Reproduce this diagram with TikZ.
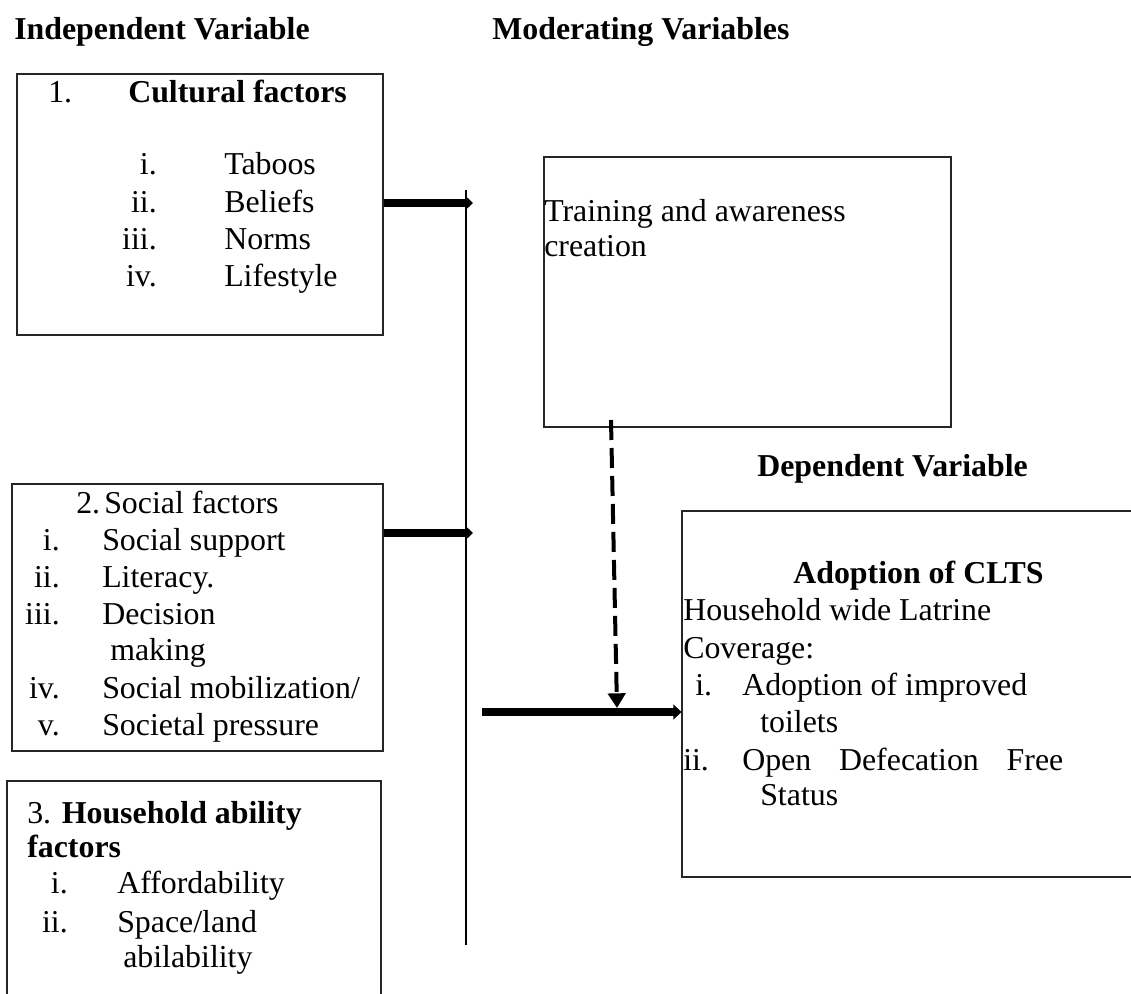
\documentclass[tikz,border=0pt]{standalone}
\usepackage{fontspec}
\setmainfont{Liberation Serif}
\usetikzlibrary{arrows.meta,fit}
\tikzset{
  box/.style={draw=black!85, line width=0.8pt, inner sep=0pt},
  txt/.style={inner sep=0pt, anchor=base west, font=\fontsize{23.9}{28}\selectfont},
  num/.style={inner sep=0pt, anchor=base east, font=\fontsize{23.9}{28}\selectfont},
  thickarrow/.style={line width=5.5pt, -{Triangle[length=6pt,width=11pt]}},
  dasharrow/.style={line width=3pt, dash pattern=on 15pt off 6pt, -{Triangle[length=11pt,width=13pt]}},
  vline/.style={line width=0.9pt}
}
\begin{document}
\begin{tikzpicture}[x=0.75pt,y=-0.75pt]
\useasboundingbox (0,0) rectangle (1131,994);
\clip (0,0) rectangle (1131,994);
\fill[white] (0,0) rectangle (1131,994);

% headers
\node[txt] (hInd) at (14,40) {\bfseries Independent Variable};
\node[txt] (hMod) at (492,40) {\bfseries Moderating Variables};
\node[txt] (hDep) at (757,477) {\bfseries Dependent Variable};

% boxes
\node[box, fit={(17,74) (383,335)}] (c1) {};
\node[box, fit={(12,484) (383,751)}] (c2) {};
\node[box, fit={(7,781) (381,1020)}] (c3) {};
\node[box, fit={(544,157) (951,427)}] (train) {};
\node[box, fit={(682,511) (1150,877)}] (dep) {};

% box 1 text
\node[txt] (c1n) at (48,103) {1.};
\node[txt] (c1t) at (128,103) {\bfseries Cultural factors};
\node[num] (c1i) at (157,175) {i.};
\node[txt] (c1a) at (224,175) {Taboos};
\node[num] (c1ii) at (157,213) {ii.};
\node[txt] (c1b) at (224,213) {Beliefs};
\node[num] (c1iii) at (157,250) {iii.};
\node[txt] (c1c) at (224,250) {Norms};
\node[num] (c1iv) at (157,287) {iv.};
\node[txt] (c1d) at (224,287) {Lifestyle};

% box 2 text
\node[txt] (c2n) at (76,513) {2.};
\node[txt] (c2t) at (104,513) {Social factors};
\node[num] (c2i) at (60,550) {i.};
\node[txt] (c2a) at (102,550) {Social support};
\node[num] (c2ii) at (60,587) {ii.};
\node[txt] (c2b) at (102,587) {Literacy.};
\node[num] (c2iii) at (60,624) {iii.};
\node[txt] (c2c) at (102,624) {Decision};
\node[txt] (c2c2) at (110,660) {making};
\node[num] (c2iv) at (60,698) {iv.};
\node[txt] (c2d) at (102,698) {Social mobilization/};
\node[num] (c2v) at (60,735) {v.};
\node[txt] (c2e) at (102,735) {Societal pressure};

% box 3 text
\node[txt] (c3t) at (27,823) {3. \bfseries Household ability};
\node[txt] (c3t2) at (27,857) {\bfseries factors};
\node[num] (c3i) at (68,893) {i.};
\node[txt] (c3a) at (117,893) {Affordability};
\node[num] (c3ii) at (68,932) {ii.};
\node[txt] (c3b) at (117,932) {Space/land};
\node[txt] (c3b2) at (123,967) {abilability};

% training box text
\node[txt] (tr1) at (544,222) {Training and awareness};
\node[txt] (tr2) at (544,257) {creation};

% dependent box text
\node[txt] (d0) at (793,583) {\bfseries Adoption of CLTS};
\node[txt] (d1) at (683,620) {Household wide Latrine};
\node[txt] (d2) at (683,658) {Coverage:};
\node[txt] (di) at (695,695) {i.};
\node[txt] (da) at (742,695) {Adoption of improved};
\node[txt] (da2) at (760,732) {toilets};
\node[txt] (dii) at (683,770) {ii.};
\node[txt] (db) at (742,770) {\makebox[240.75pt][s]{Open Defecation Free}};
\node[txt] (db2) at (760,805) {Status};

% connectors
\coordinate (vt) at (466,190);
\coordinate (vb) at (466,945);
\draw[vline] (vt) -- (vb);

\coordinate (a1e) at (473,203);
\draw[thickarrow] (c1.east |- a1e) -- (a1e);
\coordinate (a2e) at (473,533);
\draw[thickarrow] (c2.east |- a2e) -- (a2e);
\coordinate (a3s) at (482,712);
\draw[thickarrow] (a3s) -- (dep.west |- a3s);

\coordinate (ds) at (611,420);
\coordinate (de) at (617,708);
\draw[dasharrow] (ds) -- (de);
\end{tikzpicture}
\end{document}
